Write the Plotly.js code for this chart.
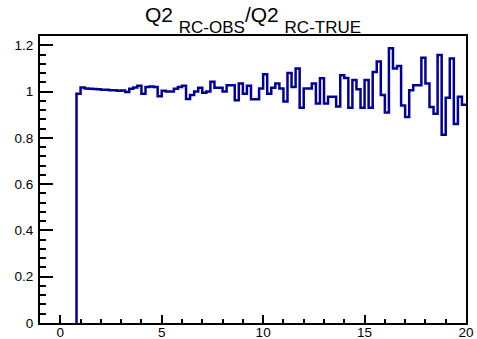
<!DOCTYPE html>
<html>
<head>
<meta charset="utf-8">
<script src="https://cdn.plot.ly/plotly-3.0.1.min.js"></script>
<style>html,body{margin:0;padding:0;background:#fff;}#chart{width:477px;height:339px;}</style>
</head>
<body>
<div id="chart"></div>
<script>
// Histogram definition: first filled bin lower edge and bin width
var binStart = 0.8;
var binWidth = 0.2;
// Ratio Q2(RC-OBS)/Q2(RC-TRUE) per bin
var ratioValues = [
  0.99, 1.018, 1.013, 1.012, 1.011, 1.010, 1.008, 1.008, 1.006, 1.006,
  1.003, 1.005, 0.998, 1.012, 1.018, 1.025, 0.99, 1.02, 1.022, 1.02,
  0.98, 1.003, 1.0, 1.0, 1.012, 1.02, 1.025, 0.968, 0.985, 1.0,
  1.016, 0.995, 1.0, 1.042, 1.016, 1.016, 1.0, 1.027, 1.027, 0.962,
  1.035, 0.99, 1.025, 0.967, 0.967, 1.013, 1.075, 0.99, 1.016, 1.035,
  1.013, 0.957, 1.08, 1.02, 1.10, 0.93, 1.013, 1.013, 1.035, 0.948,
  1.057, 0.948, 0.977, 0.977, 0.935, 1.07, 1.058, 0.93, 1.05, 1.01,
  0.93, 1.05, 0.93, 1.085, 1.13, 0.985, 0.91, 1.187, 1.10, 1.11,
  0.94, 0.89, 1.006, 1.027, 1.027, 1.146, 1.035, 0.933, 0.904, 1.158,
  0.813, 0.973, 1.143, 0.86, 0.977, 0.943
];

// Build step outline (hv) from bins
var xs = [binStart];
var ys = [0];
for (var i = 0; i < ratioValues.length; i++) {
  xs.push(binStart + i * binWidth);
  ys.push(ratioValues[i]);
}
xs.push(binStart + ratioValues.length * binWidth);
ys.push(ratioValues[ratioValues.length - 1]);

var trace = {
  x: xs, y: ys, type: 'scatter', mode: 'lines',
  line: {shape: 'hv', color: '#000099', width: 2.5},
  hoverinfo: 'skip'
};

var font = 'Liberation Sans, Arial, Helvetica, sans-serif';
var layout = {
  width: 477, height: 339,
  margin: {l: 40, r: 11, t: 36, b: 16},
  paper_bgcolor: '#fff', plot_bgcolor: '#fff',
  showlegend: false,
  font: {family: font, color: '#000', size: 13},
  title: {
    text: 'Q2 <span style="font-size:17px;baseline-shift:-11px">RC-OBS</span>/Q2 <span style="font-size:17px;baseline-shift:-11px">RC-TRUE</span>',
    font: {family: font, size: 21, color: '#000'},
    x: 0.5, xref: 'paper', xanchor: 'center',
    y: 1 - 22 / 339, yref: 'container', yanchor: 'bottom'
  },
  xaxis: {
    range: [-1, 20], tickmode: 'linear', tick0: 0, dtick: 5,
    ticks: 'inside', ticklen: 8, tickwidth: 2, tickcolor: '#000',
    showline: true, linewidth: 2, linecolor: '#000', mirror: true,
    showgrid: false, zeroline: false, ticklabelstandoff: -4,
    tickfont: {family: font, size: 13.5, color: '#000'},
    minor: {tickmode: 'linear', dtick: 1, tick0: 0, ticks: 'inside', ticklen: 4, tickwidth: 2, tickcolor: '#000', showgrid: false}
  },
  yaxis: {
    range: [0, 1.24], tickmode: 'linear', tick0: 0, dtick: 0.2,
    ticks: 'inside', ticklen: 13, tickwidth: 2, tickcolor: '#000',
    showline: true, linewidth: 2, linecolor: '#000', mirror: true,
    showgrid: false, zeroline: false, ticklabelstandoff: 2,
    tickfont: {family: font, size: 13.5, color: '#000'},
    minor: {tickmode: 'linear', dtick: 0.04, tick0: 0, ticks: 'inside', ticklen: 6, tickwidth: 2, tickcolor: '#000', showgrid: false}
  }
};

Plotly.newPlot('chart', [trace], layout, {staticPlot: true, displayModeBar: false});
</script>
</body>
</html>
